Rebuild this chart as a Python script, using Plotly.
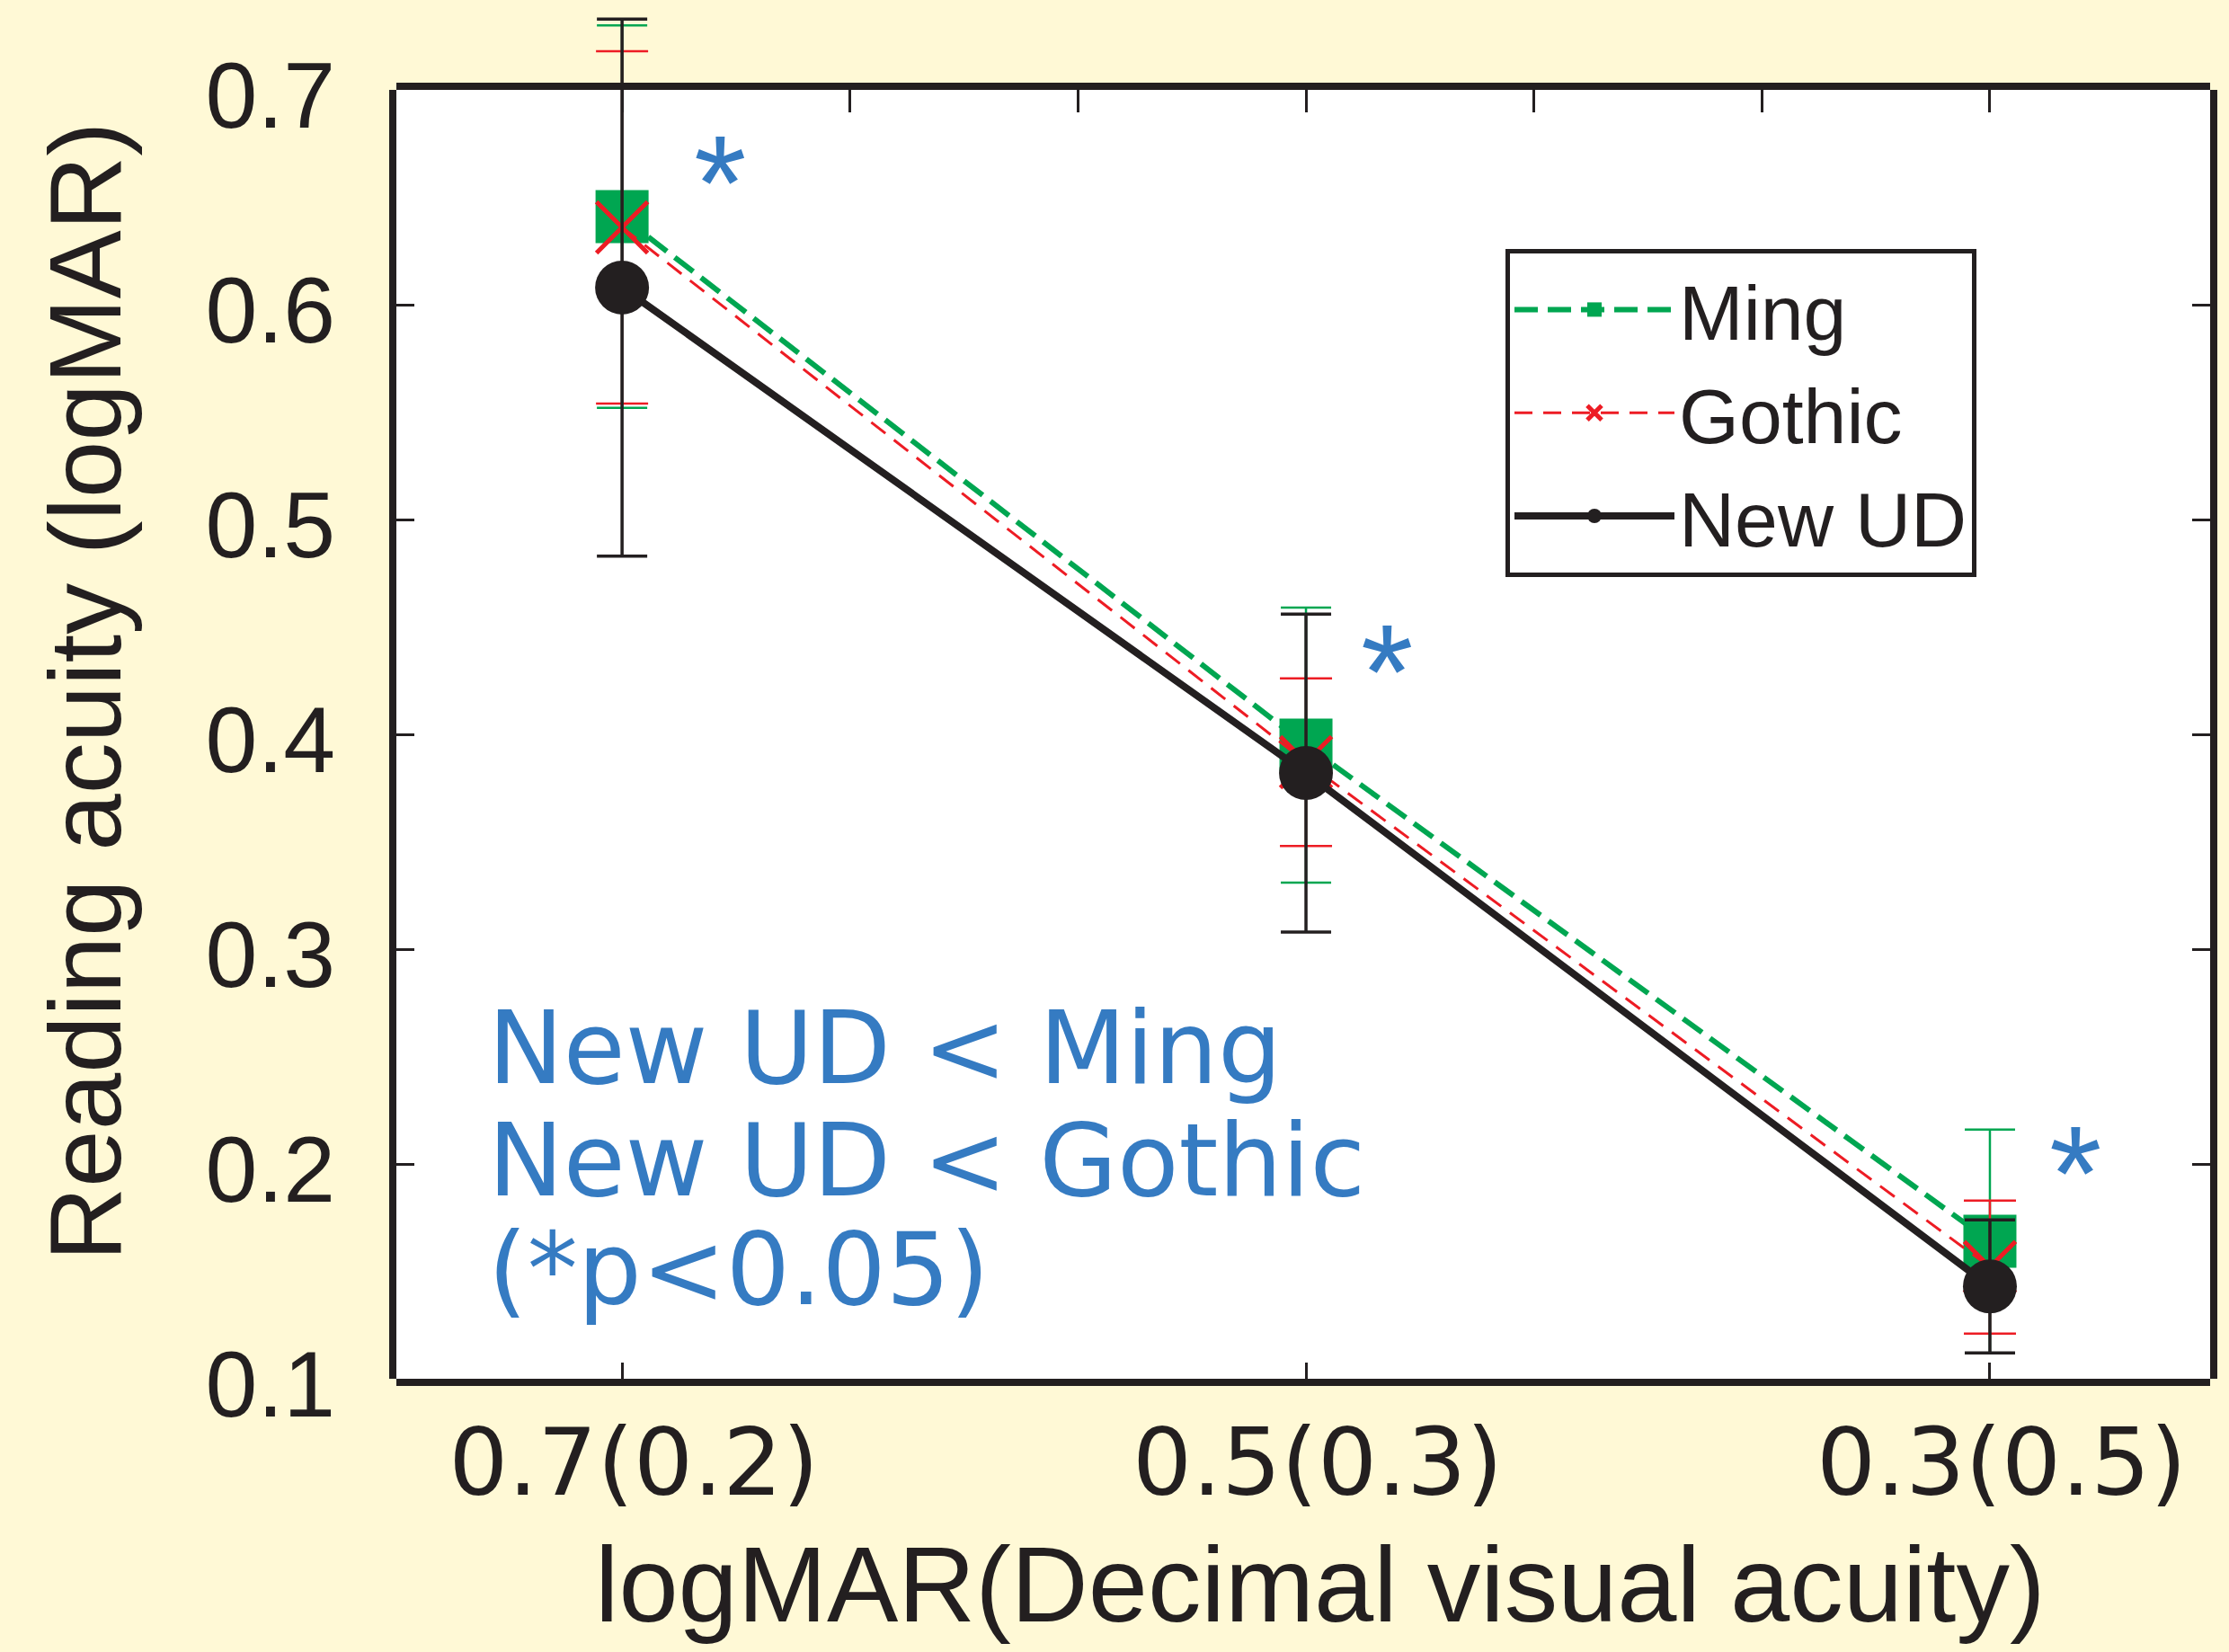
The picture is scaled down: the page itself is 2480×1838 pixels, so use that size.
import plotly.graph_objects as go

# ---------------- data ----------------
x_vals = [0.7, 0.5, 0.3]
x_tick_labels = ["0.7(0.2)", "0.5(0.3)", "0.3(0.5)"]
y_tick_vals = [0.1, 0.2, 0.3, 0.4, 0.5, 0.6, 0.7]
y_tick_labels = ["0.1", "0.2", "0.3", "0.4", "0.5", "0.6", "0.7"]

series_names = ["Ming", "Gothic", "New UD"]
ming_mean = [0.641, 0.395, 0.164]
ming_err = [0.089, 0.064, 0.052]
gothic_mean = [0.636, 0.387, 0.152]
gothic_err = [0.082, 0.039, 0.031]
newud_mean = [0.608, 0.382, 0.143]
newud_err = [0.125, 0.074, 0.031]

note_lines = ["New UD &lt; Ming", "New UD &lt; Gothic", "(*p&lt;0.05)"]
x_title = "logMAR(Decimal visual acuity)"
y_title = "Reading acuity (logMAR)"

# ---------------- style / layout geometry ----------------
GREEN = "#00A651"
RED = "#ED1C24"
BLACK = "#231F20"
BLUE = "#357BC2"
BG = "#FFF9D6"
SANS = "Liberation Sans, Arial, sans-serif"
WIDE = "DejaVu Sans, sans-serif"

W, H = 2480, 1838
PLOT_L, PLOT_R = 441, 2459          # inner edges of the frame (px)
FRAME_T, FRAME_B = 100, 1534        # inner edges of the frame (px)
Y_LO, Y_HI = 0.1, 0.7
X_RANGE = [0.766, 0.2356]

paper_w = PLOT_R - PLOT_L
paper_h = FRAME_B                    # margin top = 0, so paper spans 0..FRAME_B
main_dom_top = (FRAME_B - FRAME_T) / paper_h
y3_hi = Y_LO + (Y_HI - Y_LO) / main_dom_top   # same scale, extended to figure top


def px_x(px):
    return (px - PLOT_L) / paper_w


def px_y(px):
    return (FRAME_B - px) / paper_h


fig = go.Figure()

common = dict(xaxis="x", yaxis="y3", cliponaxis=False, mode="lines+markers")
fig.add_trace(go.Scatter(
    x=x_vals, y=ming_mean, name=series_names[0],
    line=dict(color=GREEN, width=6, dash="26px,11px"),
    marker=dict(symbol="square", size=59, color=GREEN),
    error_y=dict(type="data", array=ming_err, color=GREEN, thickness=2.5, width=28),
    **common,
))
fig.add_trace(go.Scatter(
    x=x_vals, y=gothic_mean, name=series_names[1],
    line=dict(color=RED, width=3, dash="20px,12px"),
    marker=dict(symbol="x-thin", size=57, color=RED, line=dict(color=RED, width=5)),
    error_y=dict(type="data", array=gothic_err, color=RED, thickness=2.5, width=29),
    **common,
))
fig.add_trace(go.Scatter(
    x=x_vals, y=newud_mean, name=series_names[2],
    line=dict(color=BLACK, width=8),
    marker=dict(symbol="circle", size=60, color=BLACK),
    error_y=dict(type="data", array=newud_err, color=BLACK, thickness=3.5, width=28),
    **common,
))
# invisible companion trace so that the top (minor-tick) axis gets drawn
fig.add_trace(go.Scatter(
    x=x_vals, y=newud_mean, xaxis="x2", yaxis="y", mode="markers",
    marker=dict(opacity=0), showlegend=False, hoverinfo="skip",
))

annotations = []
# significance asterisks next to each point
star_pos = [(0.6714, 0.666), (0.4764, 0.4385), (0.2751, 0.205)]
for (sx, sy) in star_pos:
    annotations.append(dict(
        x=sx, y=sy, xref="x", yref="y", text="*", showarrow=False,
        xanchor="center", yanchor="middle", yshift=-23,
        font=dict(family=SANS, size=150, color=BLUE),
    ))
note_y = [0.254, 0.2015, 0.151]
for txt, ny in zip(note_lines, note_y):
    annotations.append(dict(
        x=0.7397, y=ny, xref="x", yref="y", text=txt, showarrow=False,
        xanchor="left", yanchor="middle",
        font=dict(family=WIDE, size=112, color=BLUE),
    ))
# axis titles
annotations.append(dict(
    x=px_x(94), y=px_y(770), xref="paper", yref="paper", text=y_title,
    textangle=-90, showarrow=False, xanchor="center", yanchor="middle",
    font=dict(family=SANS, size=114, color=BLACK),
))
annotations.append(dict(
    x=px_x(1469), y=px_y(1762), xref="paper", yref="paper", text=x_title,
    showarrow=False, xanchor="center", yanchor="middle",
    font=dict(family=SANS, size=119, color=BLACK),
))

fig.update_layout(
    width=W, height=H,
    margin=dict(l=PLOT_L, r=W - PLOT_R, t=0, b=H - FRAME_B, pad=0, autoexpand=False),
    paper_bgcolor=BG, plot_bgcolor="rgba(0,0,0,0)",
    showlegend=True,
    legend=dict(
        x=px_x(1675), y=px_y(277),
        xanchor="left", yanchor="top",
        bgcolor="white", bordercolor=BLACK, borderwidth=5,
        font=dict(family=SANS, size=86, color=BLACK),
        itemwidth=178, tracegroupgap=0,
    ),
    xaxis=dict(
        range=X_RANGE, tickvals=x_vals, ticktext=x_tick_labels,
        ticks="inside", ticklen=18, tickwidth=3, tickcolor=BLACK,
        showline=True, linewidth=8, linecolor=BLACK, mirror=True,
        showgrid=False, zeroline=False, automargin=False, anchor="y",
        tickfont=dict(family=WIDE, size=104, color=BLACK),
        ticklabelstandoff=-4, ticklabelshift=-13,
    ),
    xaxis2=dict(
        overlaying="x", side="top", matches="x", anchor="y",
        tickmode="linear", tick0=0.3, dtick=0.2 / 3,
        ticks="inside", ticklen=25, tickwidth=3,
        tickcolor=BLACK, showticklabels=False, showline=False,
        showgrid=False, zeroline=False, automargin=False,
    ),
    yaxis=dict(
        domain=[0, main_dom_top], anchor="x",
        range=[Y_LO, Y_HI], tickvals=y_tick_vals, ticktext=y_tick_labels,
        ticks="inside", ticklen=20, tickwidth=3, tickcolor=BLACK,
        showline=True, linewidth=8, linecolor=BLACK, mirror="ticks",
        showgrid=False, zeroline=False, automargin=False,
        tickfont=dict(family=SANS, size=104, color=BLACK),
        ticklabelstandoff=39, ticklabelshift=6,
    ),
    yaxis3=dict(
        domain=[0, 1], anchor="x", range=[Y_LO, y3_hi],
        visible=False, showgrid=False, zeroline=False, automargin=False,
    ),
    shapes=[dict(
        type="rect", xref="x domain", yref="y domain", x0=0, x1=1, y0=0, y1=1,
        fillcolor="white", line=dict(width=0), layer="below",
    )],
    annotations=annotations,
)

fig.write_html(
    "out.html",
    config={"displayModeBar": False},
    post_script="document.body.style.margin='0';document.body.style.overflow='hidden';",
)
